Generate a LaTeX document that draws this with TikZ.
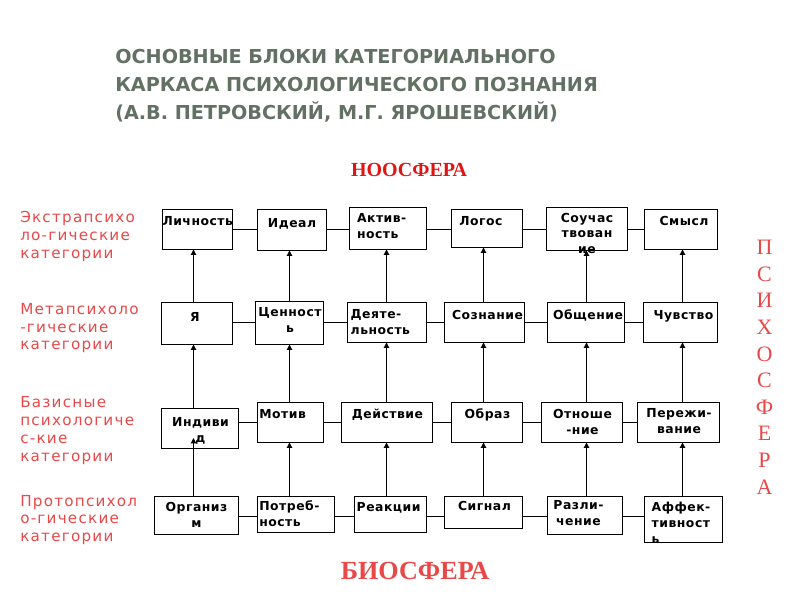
\documentclass[tikz,border=0pt]{standalone}
\usepackage{fontspec}
\usetikzlibrary{arrows.meta}
\newfontfamily\dvs{DejaVu Sans}[LetterSpace=4]
\newfontfamily\dvl{DejaVu Sans}[LetterSpace=8]
\newfontfamily\dvt{DejaVu Sans}
\newfontfamily\lser{Liberation Serif}
\definecolor{titlegray}{RGB}{98,113,100}
\definecolor{labred}{RGB}{232,72,72}
\definecolor{noored}{RGB}{225,20,20}
\tikzset{
  boxst/.style={draw=black, line width=0.8pt, inner sep=0pt, outer sep=0pt},
  btxt/.style={font=\dvs\bfseries\fontsize{9.3}{11.8}\selectfont, inner sep=0pt, outer sep=0pt},
  ltxt/.style={font=\dvl\fontsize{11.4}{13.35}\selectfont, text=labred, align=left, inner sep=0pt, anchor=base west},
  conn/.style={line width=0.8pt},
  arr/.style={line width=0.8pt, -{Triangle[length=4pt,width=4pt]}}
}
\newcommand\bx[5]{\node[boxst, minimum width={(#4-#2)*0.75pt}, minimum height={(#5-#3)*0.75pt}] (#1) at ({(#2+#4)/2+0.5},{(#3+#5)/2+0.5}) {};}
\begin{document}
\begin{tikzpicture}[x=0.75pt,y=-0.75pt]
\useasboundingbox (0,0) rectangle (800,600);
% title (anchor base = last line)
\node[font=\dvt\bfseries\fontsize{14.4}{21.2}\selectfont, text=titlegray, align=left, anchor=base west, inner sep=0pt] (title) at (115,119.9)
 {ОСНОВНЫЕ БЛОКИ КАТЕГОРИАЛЬНОГО\\КАРКАСА ПСИХОЛОГИЧЕСКОГО ПОЗНАНИЯ\\(А.В. ПЕТРОВСКИЙ, М.Г. ЯРОШЕВСКИЙ)};
% spheres
\node[font=\lser\bfseries\fontsize{15}{16}\selectfont, text=noored, anchor=base, inner sep=0pt] (noo) at (409,176) {НООСФЕРА};
\node[font=\lser\bfseries\fontsize{19.6}{20}\selectfont, text=labred, anchor=base, inner sep=0pt] (bio) at (415,579.3) {БИОСФЕРА};
\node[font=\lser\fontsize{16.5}{19.95}\selectfont, text=labred, align=center, anchor=base, inner sep=0pt] (psy) at (764.5,494)
 {П\\С\\И\\Х\\О\\С\\Ф\\Е\\Р\\А};
% left labels
\node[ltxt] (l1) at (20,258.3) {Экстрапсихо\\ло-гические\\категории};
\node[ltxt] (l2) at (20,349.9) {Метапсихоло\\-гические\\категории};
\node[ltxt] (l3) at (20,461.1) {Базисные\\психологиче\\с-кие\\категории};
\node[ltxt] (l4) at (20,541.6) {Протопсихол\\о-гические\\категории};
% boxes
\bx{lich}{162}{209}{232}{249}
\bx{ideal}{257}{209}{326}{250}
\bx{aktiv}{349}{207}{426}{249}
\bx{logos}{451}{209}{522}{247}
\bx{souch}{546}{207}{627}{250}
\bx{smysl}{644}{209}{717}{249}
\bx{ya}{161}{302}{232}{344}
\bx{tsen}{255}{301}{323}{344}
\bx{deyat}{347}{302}{426}{342}
\bx{sozn}{444}{302}{524}{342}
\bx{obsch}{547}{302}{624}{342}
\bx{chuv}{643}{302}{717}{342}
\bx{indiv}{161}{408}{238}{448}
\bx{motiv}{257}{402}{323}{442}
\bx{deistv}{341}{402}{432}{442}
\bx{obraz}{451}{402}{522}{442}
\bx{otnosh}{541}{402}{622}{442}
\bx{perezh}{637}{402}{719}{442}
\bx{organ}{154}{496}{238}{534}
\bx{potreb}{257}{496}{334}{532}
\bx{reakts}{354}{496}{426}{532}
\bx{signal}{444}{496}{522}{528}
\bx{razl}{547}{496}{622}{534}
\bx{affekt}{644}{496}{722}{542}
% box texts (anchor base = last line)
\node[btxt, anchor=base west] (tlich) at (162.5,225) {Личность};
\node[btxt, anchor=base] (tideal) at (292,227) {Идеал};
\node[btxt, anchor=base west, align=left] (taktiv) at (357,238.4) {Актив-\\ность};
\node[btxt, anchor=base] (tlogos) at (481,225) {Логос};
\node[btxt, anchor=base, align=center] (tsouch) at (587,253.7) {Соучас\\твован\\ие};
\node[btxt, anchor=base] (tsmysl) at (684,225) {Смысл};
\node[btxt, anchor=base] (tya) at (195,321.7) {Я};
\node[btxt, anchor=base, align=center] (ttsen) at (290,332.4) {Ценност\\ь};
\node[btxt, anchor=base west, align=left] (tdeyat) at (350.7,334.7) {Деяте-\\льность};
\node[btxt, anchor=base] (tsozn) at (487.5,319) {Сознание};
\node[btxt, anchor=base] (tobsch) at (588,319) {Общение};
\node[btxt, anchor=base] (tchuv) at (683.5,319) {Чувство};
\node[btxt, anchor=base, align=center] (tindiv) at (200.5,442.4) {Индиви\\д};
\node[btxt, anchor=base west] (tmotiv) at (259.3,418.3) {Мотив};
\node[btxt, anchor=base] (tdeistv) at (387.5,418.3) {Действие};
\node[btxt, anchor=base] (tobraz) at (487.5,418) {Образ};
\node[btxt, anchor=base, align=center] (totnosh) at (582.5,434) {Отноше\\-ние};
\node[btxt, anchor=base, align=center] (tperezh) at (679,433.7) {Пережи-\\вание};
\node[btxt, anchor=base, align=center] (torgan) at (196.5,527.4) {Организ\\м};
\node[btxt, anchor=base west, align=left] (tpotreb) at (259.3,526.7) {Потреб-\\ность};
\node[btxt, anchor=base west] (treakts) at (356.7,511) {Реакции};
\node[btxt, anchor=base] (tsignal) at (484.5,510.7) {Сигнал};
\node[btxt, anchor=base, align=center] (trazl) at (578.5,525.7) {Разли-\\чение};
\node[btxt, anchor=base west, align=left] (taffekt) at (651.7,543.1) {Аффек-\\тивност\\ь};
% row / column coordinates
\coordinate (r1) at (0,229.5);
\coordinate (r2) at (0,322.5);
\coordinate (r3) at (0,422.5);
\coordinate (r4) at (0,516.5);
\coordinate (c1) at (193.5,0);
\coordinate (c2) at (289.5,0);
\coordinate (c3) at (386.5,0);
\coordinate (c4) at (483.5,0);
\coordinate (c5) at (586.5,0);
\coordinate (c6) at (682.5,0);
% horizontal connectors
\draw[conn] (lich.east |- r1) -- (ideal.west |- r1);
\draw[conn] (ideal.east |- r1) -- (aktiv.west |- r1);
\draw[conn] (aktiv.east |- r1) -- (logos.west |- r1);
\draw[conn] (logos.east |- r1) -- (souch.west |- r1);
\draw[conn] (souch.east |- r1) -- (smysl.west |- r1);
\draw[conn] (ya.east |- r2) -- (tsen.west |- r2);
\draw[conn] (tsen.east |- r2) -- (deyat.west |- r2);
\draw[conn] (deyat.east |- r2) -- (sozn.west |- r2);
\draw[conn] (sozn.east |- r2) -- (obsch.west |- r2);
\draw[conn] (obsch.east |- r2) -- (chuv.west |- r2);
\draw[conn] (indiv.east |- r3) -- (motiv.west |- r3);
\draw[conn] (motiv.east |- r3) -- (deistv.west |- r3);
\draw[conn] (deistv.east |- r3) -- (obraz.west |- r3);
\draw[conn] (obraz.east |- r3) -- (otnosh.west |- r3);
\draw[conn] (otnosh.east |- r3) -- (perezh.west |- r3);
\draw[conn] (organ.east |- r4) -- (potreb.west |- r4);
\draw[conn] (potreb.east |- r4) -- (reakts.west |- r4);
\draw[conn] (reakts.east |- r4) -- (signal.west |- r4);
\draw[conn] (signal.east |- r4) -- (razl.west |- r4);
\draw[conn] (razl.east |- r4) -- (affekt.west |- r4);
% vertical arrows
\draw[arr] (c1 |- ya.north) -- (c1 |- lich.south);
\draw[arr] (c2 |- tsen.north) -- (c2 |- ideal.south);
\draw[arr] (c3 |- deyat.north) -- (c3 |- aktiv.south);
\draw[arr] (c4 |- sozn.north) -- (c4 |- logos.south);
\draw[arr] (c5 |- obsch.north) -- (c5 |- souch.south);
\draw[arr] (c6 |- chuv.north) -- (c6 |- smysl.south);
\draw[arr] (c1 |- indiv.north) -- (c1 |- ya.south);
\draw[arr] (c2 |- motiv.north) -- (c2 |- tsen.south);
\draw[arr] (c3 |- deistv.north) -- (c3 |- deyat.south);
\draw[arr] (c4 |- obraz.north) -- (c4 |- sozn.south);
\draw[arr] (c5 |- otnosh.north) -- (c5 |- obsch.south);
\draw[arr] (c6 |- perezh.north) -- (c6 |- chuv.south);
\coordinate (indtip) at (193.5,438);
\draw[arr] (c1 |- organ.north) -- (indtip);
\draw[arr] (c2 |- potreb.north) -- (c2 |- motiv.south);
\draw[arr] (c3 |- reakts.north) -- (c3 |- deistv.south);
\draw[arr] (c4 |- signal.north) -- (c4 |- obraz.south);
\draw[arr] (c5 |- razl.north) -- (c5 |- otnosh.south);
\draw[arr] (c6 |- affekt.north) -- (c6 |- perezh.south);
\end{tikzpicture}
\end{document}
